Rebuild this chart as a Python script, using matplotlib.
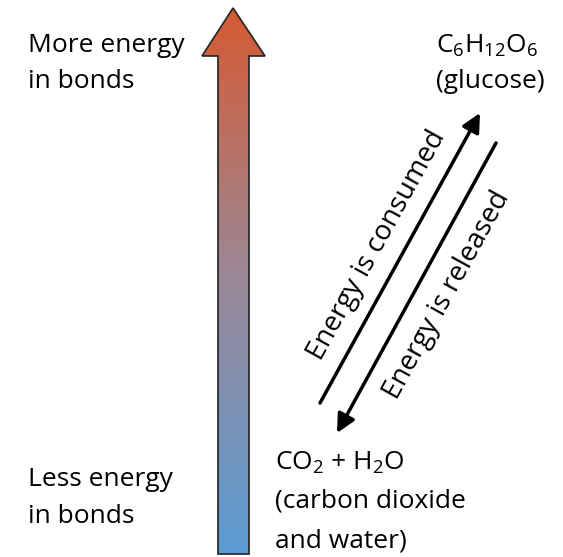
import numpy as np
import matplotlib.pyplot as plt
from matplotlib.patches import Polygon
from matplotlib.colors import LinearSegmentedColormap

plt.rcParams['font.family'] = ['Open Sans', 'DejaVu Sans']
plt.rcParams['mathtext.fontset'] = 'custom'
plt.rcParams['mathtext.rm'] = 'Open Sans'
plt.rcParams['mathtext.default'] = 'regular'

# labels, one entry per line
more_lines = ["More energy", "in bonds"]
less_lines = ["Less energy", "in bonds"]
glucose_lines = ["C$_6$H$_{12}$O$_6$", "(glucose)"]
co2_lines = ["CO$_2$ + H$_2$O", "(carbon dioxide", "and water)"]
arrow_labels = ["Energy is consumed", "Energy is released"]

# gradient arrow outline (pixel coords, y down)
big_x = [233, 265, 249, 249, 218, 218, 202]
big_y = [8, 56, 56, 554, 554, 56, 56]
grad_colors = ["#5b9bd3", "#9a8898", "#d65a32"]

# diagonal arrows: (start, end)
consumed_arrow = [(320, 403), (480, 113)]
released_arrow = [(496, 143), (337, 433)]

fig = plt.figure(figsize=(5.63, 5.57), dpi=100)
ax = fig.add_axes([0, 0, 1, 1])
ax.set_xlim(0, 563)
ax.set_ylim(557, 0)
ax.axis('off')

# big gradient arrow
cmap = LinearSegmentedColormap.from_list("energy", grad_colors)
grad = np.linspace(1, 0, 256).reshape(-1, 1)
poly = Polygon(list(zip(big_x, big_y)), closed=True, fc='none', ec='#222222', lw=1.2, zorder=3)
ax.add_patch(poly)
im = ax.imshow(grad, cmap=cmap, aspect='auto',
               extent=[min(big_x), max(big_x), max(big_y), min(big_y)], zorder=2)
im.set_clip_path(poly)

fs = 19


def put_lines(x, baselines, lines):
    for y, s in zip(baselines, lines):
        ax.text(x, y, s, fontsize=fs, ha='left', va='baseline')


put_lines(28, [52, 88], more_lines)
put_lines(28, [486, 523], less_lines)
put_lines(436, [53, 88], glucose_lines)
put_lines(275, [470, 508, 547], co2_lines)

for (s, e) in [consumed_arrow, released_arrow]:
    ax.annotate("", xy=e, xytext=s,
                arrowprops=dict(arrowstyle='-|>', lw=2.5, color='black',
                                mutation_scale=28, shrinkA=0, shrinkB=0))

ang = np.degrees(np.arctan2(consumed_arrow[0][1] - consumed_arrow[1][1],
                            consumed_arrow[1][0] - consumed_arrow[0][0]))
ax.text(377, 245, arrow_labels[0], fontsize=20, rotation=ang,
        rotation_mode='anchor', ha='center', va='center')
ax.text(447, 295, arrow_labels[1], fontsize=20, rotation=ang,
        rotation_mode='anchor', ha='center', va='center')

fig.savefig("out.png", dpi=100)
